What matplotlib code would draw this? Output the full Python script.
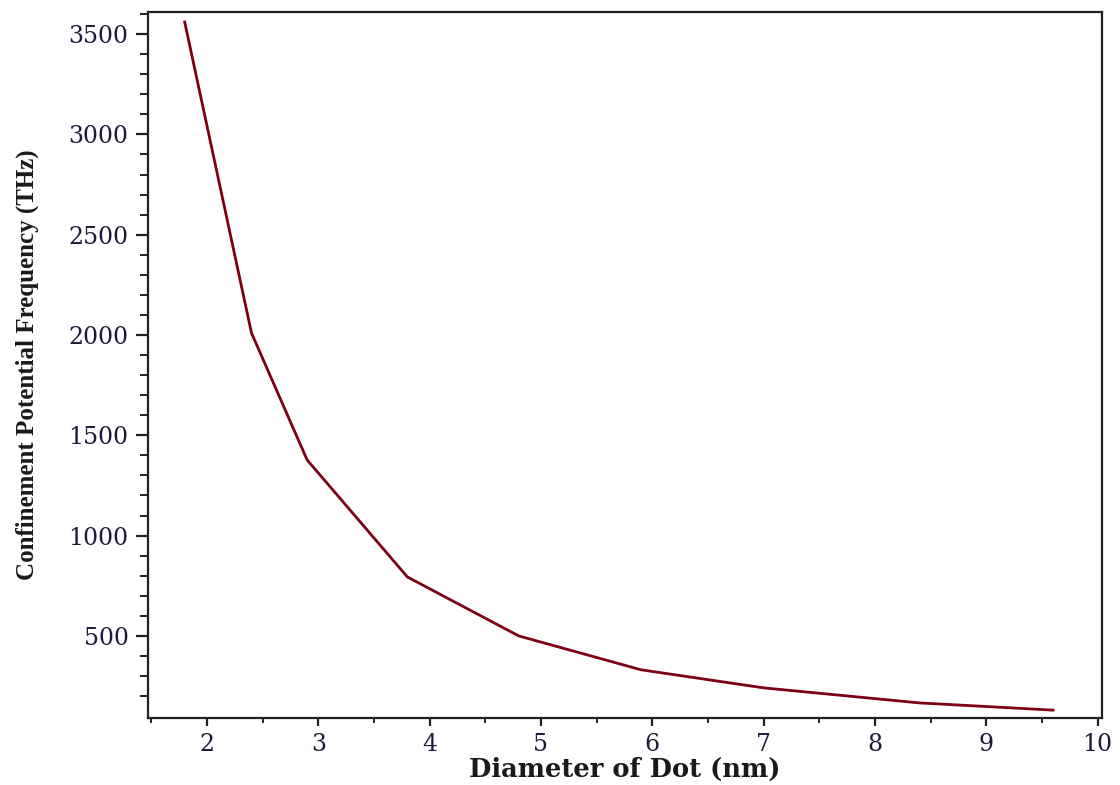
import matplotlib
matplotlib.use('Agg')
import matplotlib.pyplot as plt
from matplotlib.ticker import MultipleLocator, FixedLocator

# values
diameter = [1.8, 2.4, 2.9, 3.8, 4.8, 5.9, 7.0, 8.4, 9.6]
frequency = [3560, 2010, 1377, 794, 500, 331, 241, 166, 130]

line_color = '#7c0012'
tick_color = '#1c1c3a'

plt.rcParams['font.family'] = 'DejaVu Serif'

fig = plt.figure(figsize=(11.2, 7.85), dpi=100)
ax = fig.add_axes([0.1321, 0.0854, 0.8519, 0.8993])

ax.plot(diameter, frequency, color=line_color, lw=2.0)

ax.set_xlim(1.47, 10.04)
ax.set_ylim(91, 3610)

ax.xaxis.set_major_locator(MultipleLocator(1))
ax.xaxis.set_minor_locator(FixedLocator([1.5 + i for i in range(9)]))
ax.yaxis.set_major_locator(MultipleLocator(500))
ax.yaxis.set_minor_locator(FixedLocator([v for v in range(200, 3700, 100) if v % 500 != 0]))

for side in ['left', 'bottom', 'top', 'right']:
    ax.spines[side].set_linewidth(1.6)
    ax.spines[side].set_color('#222222')

ax.tick_params(which='both', color='#222222', direction='out', top=False, right=False)
ax.tick_params(axis='y', which='major', length=9, width=1.6, pad=5)
ax.tick_params(axis='y', which='minor', length=5.5, width=1.4)
ax.tick_params(axis='x', which='major', length=6, width=1.6, pad=5)
ax.tick_params(axis='x', which='minor', length=3.5, width=1.4)
ax.tick_params(axis='both', labelsize=17, labelcolor=tick_color)

ax.set_xlabel('Diameter of Dot (nm)', fontweight='bold', fontsize=18.5, color='#1a1a1a')
ax.xaxis.set_label_coords(0.5, -0.055)
ax.set_ylabel('Confinement Potential Frequency (THz)', family='Liberation Serif',
              fontweight='bold', fontsize=18, color='#1a1a1a')
ax.yaxis.set_label_coords(-0.114, 0.5)

fig.savefig('out.png', dpi=100)
